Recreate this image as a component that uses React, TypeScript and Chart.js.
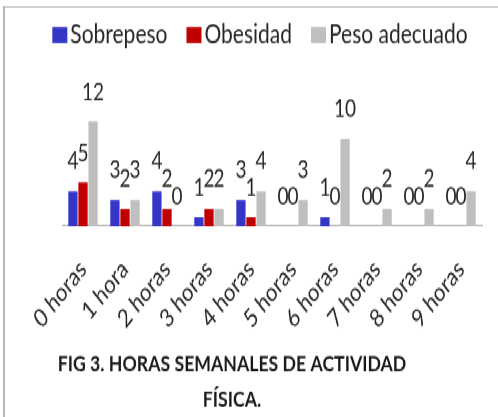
import React, { useEffect, useRef } from "react";
import { Chart, registerables } from "chart.js";

Chart.register(...registerables);

const categories = ["0 horas", "1 hora", "2 horas", "3 horas", "4 horas", "5 horas", "6 horas", "7 horas", "8 horas", "9 horas"];
const seriesNames = ["Sobrepeso", "Obesidad", "Peso adecuado"];
const sobrepeso = [4, 3, 4, 1, 3, 0, 1, 0, 0, 0];
const obesidad = [5, 2, 2, 2, 1, 0, 0, 0, 0, 0];
const pesoAdecuado = [12, 3, 0, 2, 4, 3, 10, 2, 2, 4];
const titleLines = ["FIG 3. HORAS SEMANALES DE ACTIVIDAD", "FÍSICA."];

const W = 498;
const H = 417;
const SY = 1.27;
const CH = Math.round(H / SY);
const BASE = 226 / SY;
const FONT = "Lato, 'Open Sans', sans-serif";
const TEXT = "#262626";

const valueLabels = {
  id: "valueLabels",
  afterDatasetsDraw(chart: any) {
    const ctx = chart.ctx;
    ctx.save();
    ctx.font = `19px ${FONT}`;
    ctx.fillStyle = TEXT;
    ctx.textAlign = "center";
    ctx.textBaseline = "alphabetic";
    chart.data.datasets.forEach((ds: any, i: number) => {
      const meta = chart.getDatasetMeta(i);
      meta.data.forEach((el: any, j: number) => {
        ctx.fillText(String(ds.data[j]), el.x, el.y - 17);
      });
    });
    ctx.restore();
  },
};

// legend drawn from the datasets (label + colour), centred above the plot
const topLegend = {
  id: "topLegend",
  afterDraw(chart: any) {
    const ctx = chart.ctx;
    ctx.save();
    ctx.font = `21px ${FONT}`;
    const box = 15;
    const boxH = 12.6;
    const gapText = 3;
    const gapItem = 19;
    const items = chart.data.datasets.map((ds: any) => ({
      text: ds.label,
      color: ds.backgroundColor,
      w: box + gapText + ctx.measureText(ds.label).width,
    }));
    const total = items.reduce((a: number, it: any) => a + it.w, 0) + gapItem * (items.length - 1);
    let x = 260 - total / 2;
    const cy = 35 / SY;
    ctx.textBaseline = "middle";
    ctx.textAlign = "left";
    items.forEach((it: any) => {
      ctx.fillStyle = it.color;
      ctx.fillRect(x, cy - boxH / 2, box, boxH);
      ctx.fillStyle = TEXT;
      ctx.fillText(it.text, x + box + gapText, cy);
      x += it.w + gapItem;
    });
    ctx.restore();
  },
};

const bottomTitle = {
  id: "bottomTitle",
  afterDraw(chart: any) {
    const ctx = chart.ctx;
    ctx.save();
    ctx.font = `bold 20px ${FONT}`;
    const w = ctx.measureText(titleLines[0]).width;
    const size = (20 * 349) / w;
    ctx.font = `bold ${size.toFixed(2)}px ${FONT}`;
    ctx.fillStyle = "#1a1a1a";
    ctx.textAlign = "center";
    ctx.textBaseline = "alphabetic";
    ctx.fillText(titleLines[0], 232, 371 / SY);
    ctx.fillText(titleLines[1], 232, 407 / SY);
    ctx.restore();
  },
};

export default function App() {
  const ref = useRef<HTMLCanvasElement | null>(null);

  useEffect(() => {
    if (!ref.current) return;
    const chart = new Chart(ref.current, {
      type: "bar",
      data: {
        labels: categories,
        datasets: [
          { label: seriesNames[0], data: sobrepeso, backgroundColor: "#3535c8" },
          { label: seriesNames[1], data: obesidad, backgroundColor: "#c00000" },
          { label: seriesNames[2], data: pesoAdecuado, backgroundColor: "#bfbfbf" },
        ],
      },
      options: {
        responsive: false,
        animation: false,
        layout: { padding: { top: 47.5, left: 22, right: 0, bottom: 0 } },
        datasets: { bar: { categoryPercentage: 0.72, barPercentage: 0.92 } },
        plugins: {
          legend: { display: false },
          title: { display: false },
          tooltip: { enabled: false },
        },
        scales: {
          x: {
            grid: { display: false },
            border: { display: true, color: "#a6a6a6", width: 1 },
            ticks: {
              font: { family: FONT, size: 20 },
              color: TEXT,
              maxRotation: 45,
              minRotation: 45,
              padding: 14,
              autoSkip: false,
            },
            afterFit: (s: any) => {
              s.height = CH - BASE;
            },
          },
          y: {
            min: 0,
            max: 19,
            grid: { display: false },
            border: { display: false },
            ticks: { display: false },
            afterFit: (s: any) => {
              s.width = 40;
            },
          },
          y2: {
            type: "linear",
            position: "right",
            grid: { display: false },
            border: { display: false },
            ticks: { display: false },
            afterFit: (s: any) => {
              s.width = 16;
            },
          },
        },
      },
      plugins: [valueLabels, topLegend, bottomTitle],
    } as any);
    return () => chart.destroy();
  }, []);

  return (
    <div style={{ position: "fixed", left: 0, top: 0, width: W, height: H, overflow: "hidden", background: "#fff" }}>
      <div
        style={{
          position: "absolute",
          left: 0,
          top: 0,
          width: W,
          height: CH,
          transform: `scaleY(${H / CH})`,
          transformOrigin: "0 0",
        }}
      >
        <div
          style={{
            position: "absolute",
            left: 3,
            top: 5,
            width: W,
            height: CH,
            borderLeft: "2px solid #b8b8b8",
            borderTop: "1.5px solid #b8b8b8",
          }}
        />
        <canvas ref={ref} width={W} height={CH} style={{ position: "absolute", left: 0, top: 0, width: W, height: CH }} />
      </div>
    </div>
  );
}
